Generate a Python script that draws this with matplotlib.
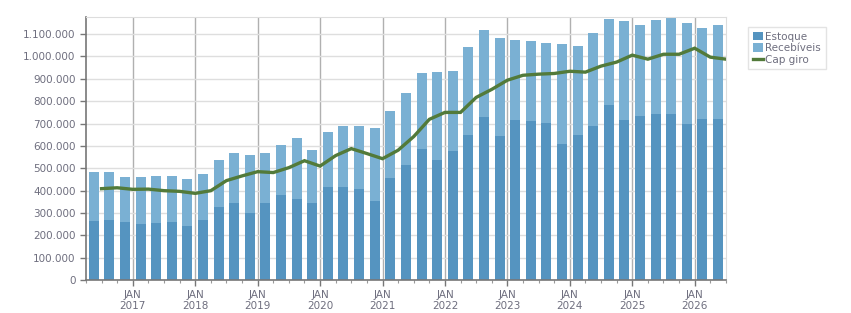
import matplotlib.pyplot as plt
import numpy as np

# quarterly data, Q2 2016 .. Q2 2026
estoque = [266, 271, 262, 249, 257, 262, 240, 271, 325, 347, 298, 347, 379, 365, 343,
           415, 415, 406, 356, 455, 513, 585, 536, 576, 648, 729, 644, 716, 711, 702,
           608, 648, 689, 783, 716, 734, 743, 743, 698, 720, 720]
total = [482, 482, 460, 460, 464, 464, 451, 473, 536, 567, 558, 567, 603, 635, 581,
         662, 689, 689, 680, 756, 837, 927, 931, 936, 1043, 1120, 1084, 1075, 1070, 1061,
         1057, 1048, 1106, 1169, 1160, 1142, 1165, 1174, 1151, 1129, 1142]
cap_giro = [409, 413, 406, 407, 400, 397, 388, 400, 445, 466, 485, 481, 503, 534, 510,
            557, 588, 566, 543, 581, 642, 719, 750, 750, 817, 853, 894, 916, 921, 924,
            934, 930, 957, 975, 1006, 988, 1010, 1010, 1037, 997, 988]
years = list(range(2017, 2027))

estoque = np.array(estoque) * 1000
recebiveis = np.array(total) * 1000 - estoque
cap_giro = np.array(cap_giro) * 1000

text_col = '#6e6e7e'
x = np.arange(len(estoque))

fig = plt.figure(figsize=(8.51, 3.13), dpi=100)
ax = fig.add_axes([0.101, 0.105, 0.752, 0.841])

b1 = ax.bar(x, estoque, width=0.64, color='#5594c0', label='Estoque', zorder=2)
b2 = ax.bar(x, recebiveis, width=0.64, bottom=estoque, color='#7ab0d3', label='Recebíveis', zorder=2)
ln, = ax.plot(x + 0.5, cap_giro, color='#527a3a', lw=2.4, label='Cap giro', zorder=3,
              solid_joinstyle='miter')

ax.set_xlim(-0.45, 40.5)
ax.set_ylim(0, 1177000)

yt = np.arange(0, 1100001, 100000)
ax.set_yticks(yt)
ax.set_yticklabels([f"{v:,}".replace(',', '.') for v in yt])

jan = [2.5 + 4 * k for k in range(len(years))]
ax.set_xticks(jan)
ax.set_xticklabels([f"JAN\n{y}" for y in years])
ax.set_xticks(np.arange(-0.5, 40.6, 1.0), minor=True)

ax.grid(axis='y', color='#dedede', lw=1, zorder=0)
ax.grid(axis='x', which='major', color='#b0b0b0', lw=1, zorder=0)
ax.set_axisbelow(True)

ax.tick_params(axis='both', which='major', labelsize=7.5, labelcolor=text_col,
               color='#777777', length=4, width=1)
ax.tick_params(axis='x', which='minor', color='#999999', length=2.5, width=0.8)
ax.tick_params(axis='x', which='major', pad=3)

for s in ['left', 'bottom']:
    ax.spines[s].set_color('#777777')
    ax.spines[s].set_linewidth(1.2)
for s in ['top', 'right']:
    ax.spines[s].set_color('#dddddd')

leg = fig.legend([b1, b2, ln], ['Estoque', 'Recebíveis', 'Cap giro'],
                 loc='upper left', bbox_to_anchor=(0.879, 0.914), fontsize=7.5,
                 frameon=True, fancybox=False, edgecolor='#dddddd', borderpad=0.45,
                 handlelength=1.0, handleheight=0.9, handletextpad=0.2, labelspacing=0.15,
                 borderaxespad=0)
for t in leg.get_texts():
    t.set_color(text_col)

fig.savefig('out.png', dpi=100)
